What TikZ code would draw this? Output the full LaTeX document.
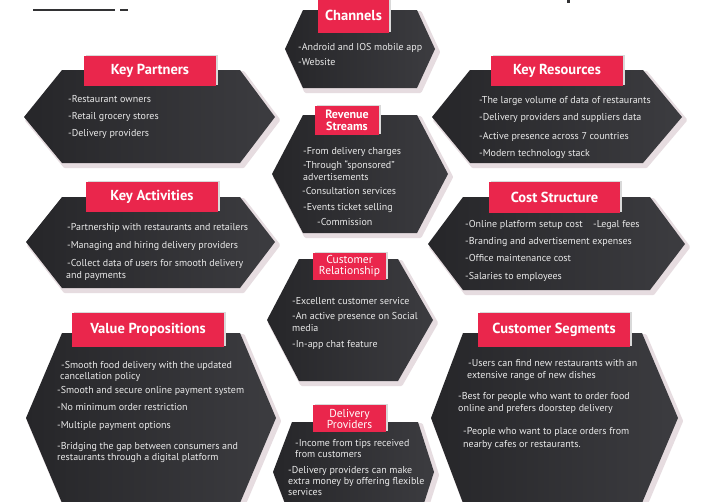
\documentclass[tikz,border=0pt]{standalone}
\usepackage{fontspec}
\setmainfont{PT Sans}

\definecolor{labelred}{RGB}{234,38,76}
\definecolor{hexdark}{RGB}{38,38,41}
\definecolor{hexlight}{RGB}{60,60,64}
\definecolor{halo}{RGB}{230,220,224}
\definecolor{bodygrey}{RGB}{234,234,234}
\definecolor{rule}{RGB}{50,50,52}

\tikzset{
  hexbody/.style={left color=hexdark, right color=hexlight, draw=none},
  hexhalo/.style={fill=halo, draw=halo, line width=4pt, line join=round},
  tagbox/.style={fill=labelred, draw=none},
  tagshade/.style={fill=black!15, draw=none},
  tagtext/.style={text=white, font=\bfseries\fontsize{14.5}{15}\selectfont, inner sep=0pt},
  tagsmall/.style={text=white, font=\fontsize{11.5}{11}\selectfont, align=center, inner sep=0pt},
  tagsmallbold/.style={tagsmall, font=\bfseries\fontsize{12}{11.5}\selectfont},
  bodytxt/.style={text=bodygrey, font=\fontsize{10}{12}\selectfont, inner sep=0pt, anchor=base west},
}

% hexagon: name, left tip x, upper-left x, upper-right x, right tip x, top y, tip y, bottom y
\newcommand\hexcard[8]{%
  \path[hexhalo, shift={(3,3)}] (#2,#7)--(#3,#6)--(#4,#6)--(#5,#7)--(#4,#8)--(#3,#8)--cycle;
  \path[hexbody] (#2,#7)--(#3,#6)--(#4,#6)--(#5,#7)--(#4,#8)--(#3,#8)--cycle;
  \coordinate (#1) at ({(#2+#5)/2},#7);
}
% red title tab: name, x1, y1, x2, y2, style, text
\newcommand\hextab[7]{%
  \fill[tagshade] (#2+1.5,#3-1.5) rectangle (#4+1.5,#5-1.5);
  \fill[tagbox] (#2,#3) rectangle (#4,#5);
  \node[#6] (#1) at ({(#2+#4)/2},{(#3+#5)/2}) {#7};
}
% one line of body text: name, x, centre y, text
\newcommand\bline[4]{\node[bodytxt] (#1) at (#2,#3+3.5) {#4};}

\begin{document}
\begin{tikzpicture}[x=1pt,y=-1pt]
\clip (0,0) rectangle (707,501);
\fill[white] (0,0) rectangle (707,501);

% heading rules
\coordinate (ruleA) at (33,10);
\coordinate (ruleB) at (115,10);
\coordinate (dashA) at (120,10);
\coordinate (dashB) at (128,10);
\draw[rule, line width=2pt] (ruleA) -- (ruleB);
\draw[rule, line width=2pt] (dashA) -- (dashB);
\fill[rule] (567,0) rectangle (570,3);

% hexagon cards
\hexcard{hKP}{24}{62}{240}{275}{70}{117}{163}
\hexcard{hCH}{285}{303}{417}{435}{10}{49}{88}
\hexcard{hKR}{432}{470}{643}{682}{70}{117}{163}
\hexcard{hRS}{272}{303}{417}{448}{115}{174}{233}
\hexcard{hKA}{26}{62}{240}{275}{197}{242}{288}
\hexcard{hCS}{428}{463}{650}{685}{197}{244}{290}
\hexcard{hCR}{267}{299}{398}{433}{259}{320}{381}
\hexcard{hVP}{26}{62}{240}{276}{333}{418}{503}
\hexcard{hSG}{431}{463}{642}{678}{333}{418}{503}
\hexcard{hDP}{273}{292}{418}{434}{422}{472}{522}

% title tabs
\hextab{tKP}{84}{56}{216}{86}{tagtext}{Key Partners}
\hextab{tCH}{318}{-2}{389}{33}{tagtext}{Channels}
\hextab{tKR}{491}{56}{623}{86}{tagtext}{Key Resources}
\hextab{tRS}{315}{106}{379}{135}{tagsmallbold}{Revenue\\Streams}
\hextab{tKA}{86}{182}{218}{212}{tagtext}{Key Activities}
\hextab{tCS}{489}{182}{620}{213}{tagtext}{Cost Structure}
\hextab{tCR}{313}{253}{386}{280}{tagsmall}{Customer\\Relationship}
\hextab{tVP}{72}{313}{224}{347}{tagtext}{Value Propositions}
\hextab{tSG}{478}{313}{630}{347}{tagtext}{Customer Segments}
\hextab{tDP}{313}{405}{386}{432}{tagsmall}{Delivery\\Providers}

% Key Partners
\bline{kp1}{68}{99}{-Restaurant owners}
\bline{kp2}{68}{116}{-Retail grocery stores}
\bline{kp3}{68}{133}{-Delivery providers}
% Channels
\bline{ch1}{298}{47}{-Android and IOS mobile app}
\bline{ch2}{298}{62}{-Website}
% Key Resources
\bline{kr1}{479}{100}{-The large volume of data of restaurants}
\bline{kr2}{479}{117}{-Delivery providers and suppliers data}
\bline{kr3}{479}{136}{-Active presence across 7 countries}
\bline{kr4}{479}{153}{-Modern technology stack}
% Revenue Streams
\bline{rs1}{303}{151}{-From delivery charges}
\bline{rs2}{303}{165}{-Through “sponsored”}
\bline{rs3}{303}{177}{advertisements}
\bline{rs4}{302}{191}{-Consultation services}
\bline{rs5}{303}{207}{-Events ticket selling}
\bline{rs6}{317}{222}{-Commission}
% Key Activities
\bline{ka1}{67}{227}{-Partnership with restaurants and retailers}
\bline{ka2}{67}{245}{-Managing and hiring delivery providers}
\bline{ka3}{67}{263}{-Collect data of users for smooth delivery}
\bline{ka4}{66}{275}{and payments}
% Cost Structure
\bline{cs1}{465}{224}{-Online platform setup cost}
\bline{cs2}{593}{224}{-Legal fees}
\bline{cs3}{465}{241}{-Branding and advertisement expenses}
\bline{cs4}{465}{258}{-Office maintenance cost}
\bline{cs5}{465}{276}{-Salaries to employees}
% Customer Relationship
\bline{cr1}{292}{301}{-Excellent customer service}
\bline{cr2}{292}{316}{-An active presence on Social}
\bline{cr3}{292}{328}{media}
\bline{cr4}{292}{344}{-In-app chat feature}
% Value Propositions
\bline{vp1}{61}{365}{-Smooth food delivery with the updated}
\bline{vp2}{60}{376}{cancellation policy}
\bline{vp3}{57}{390}{-Smooth and secure online payment system}
\bline{vp4}{57}{407}{-No minimum order restriction}
\bline{vp5}{57}{425}{-Multiple payment options}
\bline{vp6}{57}{446}{-Bridging the gap between consumers and}
\bline{vp7}{57}{457}{restaurants through a digital platform}
% Customer Segments
\bline{sg1}{468}{363}{-Users can find new restaurants with an}
\bline{sg2}{467}{375}{extensive range of new dishes}
\bline{sg3}{458}{396}{-Best for people who want to order food}
\bline{sg4}{458}{408}{online and prefers doorstep delivery}
\bline{sg5}{463}{431}{-People who want to place orders from}
\bline{sg6}{463}{444}{nearby cafes or restaurants.}
% Delivery Providers
\bline{dp1}{295}{443}{-Income from tips received}
\bline{dp2}{295}{454}{from customers}
\bline{dp3}{288}{470}{-Delivery providers can make}
\bline{dp4}{288}{481}{extra money by offering flexible}
\bline{dp5}{288}{492}{services}
\end{tikzpicture}
\end{document}
